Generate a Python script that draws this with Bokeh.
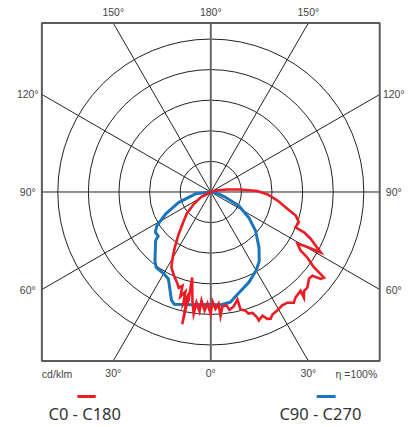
import numpy as np
from bokeh.plotting import figure
from bokeh.models import Range1d
from bokeh.embed import file_html
from bokeh.resources import INLINE
from bokeh.core.properties import value

# ---------------- data (gamma angle in degrees, 0 = nadir; negative = left half) ----------------
c0_c180_angle = [-80, -62, -55, -48, -42, -37, -33, -30, -27.6, -23.9, -20.4,
                 -18.5, -16.8, -16.2, -14.3, -13.8, -12.6, -12.2, -12.1, -11.6, -12.3,
                 -9.6, -8.0, -7.4, -5.4, -4.9, -3.0, -1.7, -0.1, 0.9, 2.3, 4.0, 4.5,
                 5.8, 7.9, 9.0, 11.2, 13.9, 14.2, 16.3, 17.2, 19.1, 20.3, 20.5, 22.7,
                 24.0, 25.3, 26.7, 29.3, 32.2, 34.7, 36.9, 38.8, 42.3, 41.4, 43.4,
                 45.3, 48.6, 50.5, 51.7, 52.9, 53.9, 55.8, 56.9, 59.1, 60.1, 61.2,
                 64.9, 66.6, 67.4, 71.1, 74.5, 77.6, 82.7, 87.5, 91.2, 94.8, 98.7,
                 107.7, 115]
c0_c180_cd = [0, 18, 33, 53, 68, 88, 108, 125, 139, 149, 158,
              165, 160, 178, 168, 188, 175, 221, 190, 181, 143,
              180, 201, 182, 196, 178, 194, 182, 199, 179, 191, 183, 203,
              188, 187, 195, 191, 181, 198, 202, 208, 209, 219, 224, 219,
              227, 229, 224, 222, 219, 220, 226, 221, 218, 230, 222,
              222, 214, 215, 229, 232, 208, 191, 175, 165, 176, 205,
              180, 166, 150, 152, 144, 128, 110, 93, 76, 49, 27,
              8, 0]

c90_c270_angle = [-90, -83, -72, -64, -58, -54, -50, -48.7, -39, -36, -30, -26,
                  -20, -18, -10, 0, 5, 10, 15, 23, 30, 35, 41, 49, 56, 64, 70,
                  80, 90]
c90_c270_cd = [0, 25, 55, 82, 104, 112, 112, 120, 145, 152, 154, 158,
               188, 193, 187, 184, 185, 183, 172, 160, 148, 138, 120, 97, 75, 51, 26,
               10, 0]

ring_values = [50, 100, 150, 200, 250]
line_angles = [0, 30, 60, 90, 120, 150]
top_labels = ["150°", "180°", "150°"]
side_labels = ["120°", "90°", "60°"]
bottom_labels = ["30°", "0°", "30°"]
series_names = ["C0 - C180", "C90 - C270"]
unit_label = "cd/klm"
eff_label = "η =100%"

RED = "#ED1C24"
BLUE = "#1B75BC"
GRID = "#222222"
FRAME = "#5a5a5a"
LABEL = "#444444"

half = 276.0  # half-size of the square frame (data units)

def to_xy(ang, cd):
    a = np.radians(np.asarray(ang, dtype=float))
    r = np.asarray(cd, dtype=float)
    return r * np.sin(a), -r * np.cos(a)

p = figure(width=416, height=427, output_backend="svg", toolbar_location=None,
           x_range=Range1d(-343.6, 336.1), y_range=Range1d(-384.8, 312.9),
           x_axis_location=None, y_axis_location=None, min_border=0,
           outline_line_color=None, background_fill_color="white",
           border_fill_color="white")
p.grid.visible = False

# rings
p.circle(x=[0] * len(ring_values), y=[0] * len(ring_values), radius=ring_values,
         fill_color=None, line_color=GRID, line_width=1)

# radial lines clipped to the frame
x0s, y0s, x1s, y1s = [], [], [], []
for a in line_angles[1:]:
    ar = np.radians(a)
    s, c = np.sin(ar), -np.cos(ar)
    t = half / max(abs(s), abs(c))
    x0s.append(s * t); y0s.append(c * t); x1s.append(-s * t); y1s.append(-c * t)
p.segment(x0=x0s, y0=y0s, x1=x1s, y1=y1s, line_color=GRID, line_width=1)
# vertical axis
p.segment(x0=[0], y0=[-half], x1=[0], y1=[half], line_color="#666666", line_width=2)

# frame
p.rect(x=[0], y=[0], width=[2 * half], height=[2 * half], fill_color=None,
       line_color=FRAME, line_width=2)

# curves
rx, ry = to_xy(c0_c180_angle, c0_c180_cd)
bx, by = to_xy(c90_c270_angle, c90_c270_cd)
p.line(bx, by, line_color=BLUE, line_width=3, line_join="round")
p.line(rx, ry, line_color=RED, line_width=2.6, line_join="miter")

# angle labels
t30 = half * np.tan(np.radians(30))
font = value("Liberation Sans")
fs = value("10.5px")
p.text(x=[-t30, 0, t30], y=[half + 18] * 3, text=top_labels, text_font=font,
       text_font_size=fs, text_color=LABEL, text_align="center", text_baseline="middle")
p.text(x=[0, -t30, t30], y=[-half - 19] * 3, text=[bottom_labels[1], bottom_labels[0], bottom_labels[2]],
       text_font=font, text_font_size=fs, text_color=LABEL, text_align="center",
       text_baseline="middle")
for sx in (-1, 1):
    p.text(x=[sx * (half + 23)] * 3, y=[t30, 0, -t30], text=side_labels, text_font=font,
           text_font_size=fs, text_color=LABEL, text_align="center", text_baseline="middle")
p.text(x=[-half], y=[-half - 21], text=[unit_label], text_font=font, text_font_size=fs,
       text_color=LABEL, text_align="left", text_baseline="middle")
p.text(x=[half - 4], y=[-half - 21], text=[eff_label], text_font=font, text_font_size=fs,
       text_color=LABEL, text_align="right", text_baseline="middle")

# legend
p.segment(x0=[-218, 173], y0=[-334, -334], x1=[-188, 204], y1=[-334, -334],
          line_color=[RED, BLUE], line_width=3)
p.text(x=[-206, 179], y=[-362, -362], text=series_names, text_font=value("Noto Sans"),
       text_font_size=value("16.5px"), text_color="#333333", text_align="center",
       text_baseline="middle")

open("out.html", "w").write(file_html(p, INLINE))
